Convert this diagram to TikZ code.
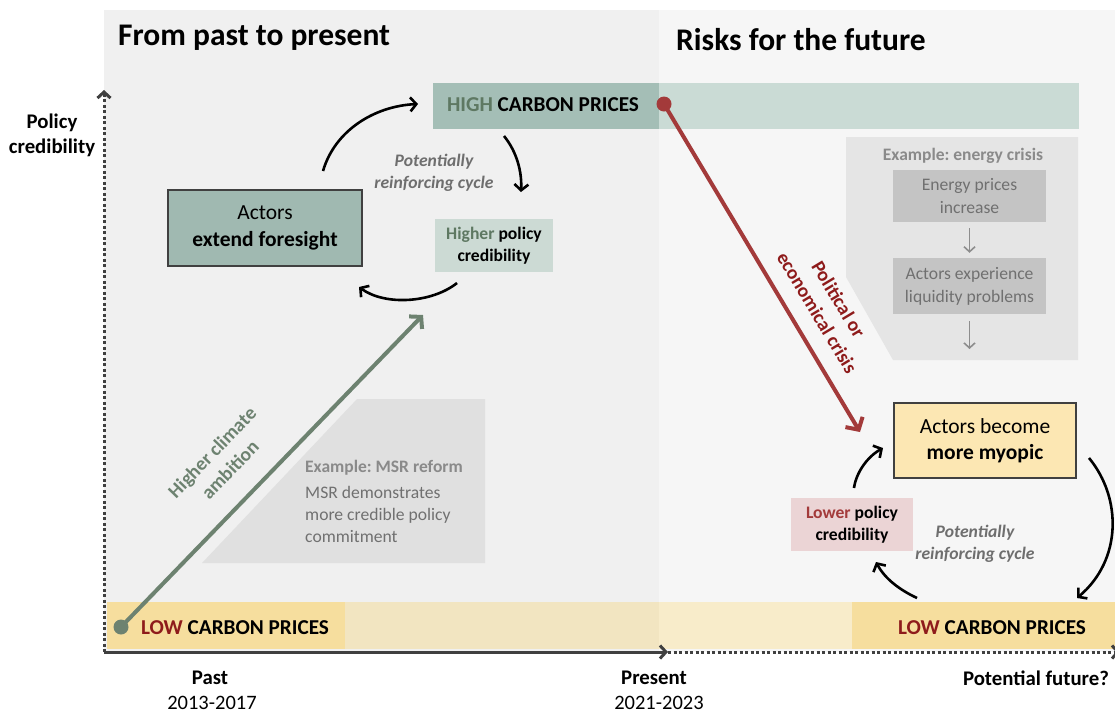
\documentclass[tikz,border=0pt]{standalone}
\usepackage{fontspec}
\setmainfont{Carlito}
\usetikzlibrary{arrows.meta}
\frenchspacing

\definecolor{panelL}{HTML}{F0F0F0}
\definecolor{panelR}{HTML}{F6F6F6}
\definecolor{hidark}{HTML}{A4BEB6}
\definecolor{hilight}{HTML}{CADBD5}
\definecolor{lowdark}{HTML}{F6DE9E}
\definecolor{lowlightA}{HTML}{F2E5C1}
\definecolor{lowlightB}{HTML}{F8ECCA}
\definecolor{greenline}{HTML}{6D8270}
\definecolor{greentext}{HTML}{5E7862}
\definecolor{redline}{HTML}{A33A3A}
\definecolor{redtext}{HTML}{8E1B1B}
\definecolor{forecol}{HTML}{A0B9B1}
\definecolor{highercol}{HTML}{CCDAD4}
\definecolor{myopcol}{HTML}{FCE7B3}
\definecolor{lowercol}{HTML}{EBD4D5}
\definecolor{expanel}{HTML}{E5E5E5}
\definecolor{msrpanel}{HTML}{E0E0E0}
\definecolor{exboxcol}{HTML}{C4C4C4}
\definecolor{exhead}{HTML}{8A8A8A}
\definecolor{extext}{HTML}{707070}
\definecolor{axiscol}{HTML}{404040}
\definecolor{cyclecol}{HTML}{6E6E6E}

\begin{document}
\begin{tikzpicture}[x=1pt,y=-1pt,
	title/.style={anchor=west,inner sep=0pt,font=\fontsize{31.5}{36}\selectfont\bfseries},
	axislabel/.style={align=center,font=\fontsize{20.8}{25}\selectfont\bfseries},
	yearlabel/.style={font=\fontsize{20.5}{23}\selectfont},
	pricelabel/.style={font=\fontsize{21.2}{24}\selectfont\bfseries},
	cbox/.style={draw=axiscol,line width=1.2pt,align=center,inner sep=0pt,font=\fontsize{21.5}{26.5}\selectfont},
	sbox/.style={align=center,inner sep=0pt,font=\fontsize{17.6}{21.5}\selectfont\bfseries},
	cyclelabel/.style={align=center,text=cyclecol,font=\fontsize{17.6}{21.5}\selectfont\bfseries\itshape},
	exheadline/.style={text=exhead,font=\fontsize{17.5}{20}\selectfont\bfseries},
	exbox/.style={fill=exboxcol,text=extext,align=center,inner sep=0pt,minimum width=153,font=\fontsize{17.6}{23}\selectfont},
	exarrow/.style={draw=extext!80,line width=1.6pt,-{Straight Barb[length=5pt,width=11pt]}},
	cycarrow/.style={draw=black,line width=2.6pt,-{Straight Barb[length=6pt,width=14pt]}},
	axis/.style={draw=axiscol,line width=3pt},
	dotline/.style={dash pattern=on 3pt off 2.5pt},
	dot/.style={circle,inner sep=0pt,minimum size=15pt}]
	\useasboundingbox (0,0) rectangle (1115,716);

	\fill[panelL] (104,10) rectangle (659,652);
	\fill[panelR] (659,10) rectangle (1115,652);

	\fill[hidark] (433,83) rectangle (659,129);
	\fill[hilight] (659,83) rectangle (1079,129);
	\fill[lowdark] (107,602) rectangle (345,649);
	\fill[lowlightA] (345,602) rectangle (659,649);
	\fill[lowlightB] (659,602) rectangle (852,649);
	\fill[lowdark] (852,602) rectangle (1115,649);

	\fill[expanel] (846,137) -- (1078,137) -- (1078,360) -- (893,360) -- (846,277) -- cycle;
	\fill[msrpanel] (202,563) -- (357,399) -- (485,399) -- (485,563) -- cycle;

	\node[title] (titleL) at (118,38) {From past to present};
	\node[title] (titleR) at (676,40) {Risks for the future};

	\node[axislabel] (ylab) at (52,135) {Policy\\credibility};
	\node[axislabel] (past) at (210,678) {Past};
	\node[yearlabel] (pastyr) at (212,703) {2013-2017};
	\node[axislabel] (present) at (654,678) {Present};
	\node[yearlabel] (presentyr) at (659,703) {2021-2023};
	\node[axislabel] (future) at (1036,678) {Potential future?};

	\coordinate (origin) at (104,652);
	\coordinate (ytop) at (104,90);
	\coordinate (xmid) at (668,652);
	\coordinate (xend) at (1120,652);
	\draw[axis,dotline,-{Straight Barb[length=6pt,width=13pt]}] (origin) -- (ytop);
	\draw[axis,-{Straight Barb[length=6pt,width=13pt]}] (origin) -- (xmid);
	\draw[axis,dotline,-{Straight Barb[length=6pt,width=13pt]}] (xmid) -- (xend);

	\node[pricelabel] (high) at (543,105) {\textcolor{greentext}{HIGH} CARBON PRICES};
	\node[pricelabel] (lowL) at (235,628) {\textcolor{redtext}{LOW} CARBON PRICES};
	\node[pricelabel] (lowR) at (992,628) {\textcolor{redtext}{LOW} CARBON PRICES};

	\node[cbox,fill=forecol,minimum width=194,minimum height=76] (foresight) at (265,228) {Actors\\\textbf{extend foresight}};
	\node[sbox,fill=highercol,minimum width=118,minimum height=53] (higher) at (494,245.5) {\textcolor{greentext}{Higher} policy\\credibility};
	\node[cyclelabel] (cycleL) at (434,173) {Potentially\\reinforcing cycle};

	\node[cbox,fill=myopcol,minimum width=182,minimum height=75] (myopic) at (985,440.5) {Actors become\\\textbf{more myopic}};
	\node[sbox,fill=lowercol,minimum width=122,minimum height=53] (lower) at (852,524.5) {\textcolor{redline}{Lower} policy\\credibility};
	\node[cyclelabel] (cycleR) at (975,544) {Potentially\\reinforcing cycle};

	\node[exheadline] (exenergy) at (963,156) {Example: energy crisis};
	\node[exbox,minimum height=52] (energy) at (969.5,196) {Energy prices\\increase};
	\node[exbox,minimum height=56] (liquid) at (969.5,286) {Actors experience\\liquidity problems};
	\coordinate (liqout) at (969.5,349);
	\draw[exarrow,shorten <=6pt,shorten >=5pt] (energy) -- (liquid);
	\draw[exarrow,shorten <=7pt] (liquid) -- (liqout);

	\node[exheadline,anchor=west,inner sep=0pt] (exmsr) at (305,468) {Example: MSR reform};
	\node[anchor=north west,align=left,text=extext,inner sep=0pt,font=\fontsize{17.6}{22}\selectfont] (msrtext) at (305,486) {MSR demonstrates\\more credible policy\\commitment};

	\node[dot,fill=greenline] (lodot) at (121,627) {};
	\coordinate (ambend) at (423,315);
	\draw[greenline,line width=4pt,-{Straight Barb[length=8pt,width=18pt]}] (lodot.center) -- (ambend);
	\node[align=center,text=greenline,rotate=46,font=\fontsize{19.5}{25}\selectfont\bfseries] (ambition) at (221,461) {Higher climate\\ambition};

	\node[dot,fill=redline] (hidot) at (664,104) {};
	\coordinate (crisisend) at (860,432);
	\draw[redline,line width=4pt,-{Straight Barb[length=9pt,width=20pt]}] (hidot.center) -- (crisisend);
	\node[align=center,text=redtext,rotate=-59,font=\fontsize{19.5}{25}\selectfont\bfseries] (crisis) at (828,306) {Political or\\economical crisis};

	\coordinate (a1s) at (323,171);
	\coordinate (a1e) at (418,104);
	\coordinate (a2s) at (504,136);
	\coordinate (a2e) at (521,192);
	\coordinate (a3s) at (457,283);
	\coordinate (a3e) at (359,287);
	\draw[cycarrow] (a1s) .. controls (335,130) and (375,106) .. (a1e);
	\draw[cycarrow] (a2s) .. controls (517,152) and (522,172) .. (a2e);
	\draw[cycarrow] (a3s) .. controls (432,303) and (385,306) .. (a3e);

	\coordinate (b1s) at (854,488);
	\coordinate (b1e) at (883,448);
	\coordinate (b2s) at (1089,458);
	\coordinate (b2e) at (1077,598);
	\coordinate (b3s) at (917,598);
	\coordinate (b3e) at (876,562);
	\draw[cycarrow] (b1s) .. controls (856,473) and (867,457) .. (b1e);
	\draw[cycarrow] (b2s) .. controls (1122,498) and (1122,560) .. (b2e);
	\draw[cycarrow] (b3s) .. controls (900,590) and (885,579) .. (b3e);
\end{tikzpicture}
\end{document}
